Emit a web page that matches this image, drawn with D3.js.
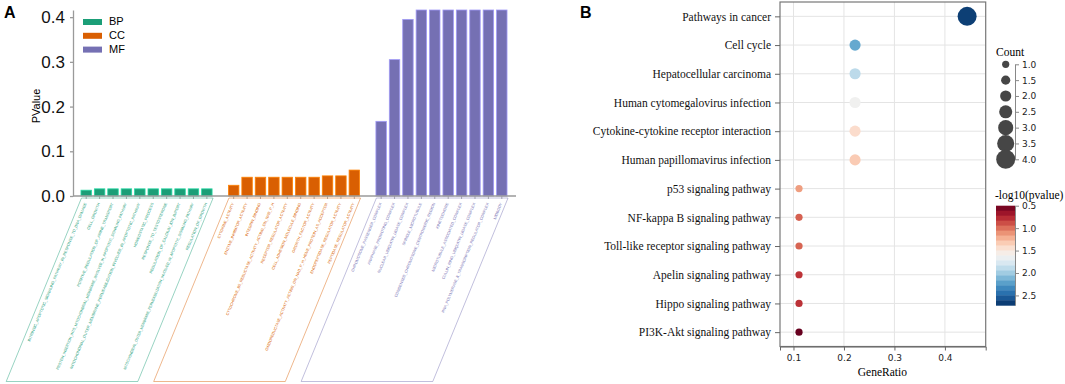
<!DOCTYPE html>
<meta charset="utf-8">
<script src="https://cdn.jsdelivr.net/npm/d3@7"></script>
<style>
  body { margin: 0; background: #fff; }
</style>
<div id="my_dataviz"></div>
<script>

// ---------- panel A : GO enrichment bars ----------
var groupNames = ["BP", "CC", "MF"];
var groupColors = ["#1b9e77", "#d95f02", "#7570b3"];

var bpTerms = [
  "INTRINSIC_APOPTOTIC_SIGNALING_PATHWAY_IN_RESPONSE_TO_DNA_DAMAGE",
  "CELL_GROWTH",
  "POSITIVE_REGULATION_OF_AMINE_TRANSPORT",
  "PROTEIN_INSERTION_INTO_MITOCHONDRIAL_MEMBRANE_INVOLVED_IN_APOPTOTIC_SIGNALING_PATHWAY",
  "MITOCHONDRIAL_OUTER_MEMBRANE_PERMEABILIZATION_INVOLVED_IN_APOPTOTIC_PATHWAY",
  "HOMEOSTATIC_PROCESS",
  "RESPONSE_TO_TESTOSTERONE",
  "REGULATION_OF_CALCIUM_ION_IMPORT",
  "MITOCHONDRIAL_OUTER_MEMBRANE_PERMEABILIZATION_INVOLVED_IN_APOPTOTIC_SIGNALING_PATHWAY",
  "REGULATION_OF_GROWTH"
];
var bpValues = [0.013, 0.016, 0.016, 0.016, 0.016, 0.016, 0.016, 0.016, 0.016, 0.016];

var ccTerms = [
  "CYTOKINE_ACTIVITY",
  "ENZYME_INHIBITOR_ACTIVITY",
  "INTEGRIN_BINDING",
  "CYTOCHROME_B5_REDUCTASE_ACTIVITY_ACTING_ON_NAD_P_H",
  "RECEPTOR_REGULATOR_ACTIVITY",
  "CELL_ADHESION_MOLECULE_BINDING",
  "GROWTH_FACTOR_ACTIVITY",
  "OXIDOREDUCTASE_ACTIVITY_ACTING_ON_NAD_P_H_HEME_PROTEIN_AS_ACCEPTOR",
  "ENDOPEPTIDASE_REGULATOR_ACTIVITY",
  "PEPTIDASE_REGULATOR_ACTIVITY"
];
var ccValues = [0.024, 0.042, 0.042, 0.042, 0.042, 0.042, 0.042, 0.045, 0.045, 0.058];

var mfTerms = [
  "CHROMOSOME_PASSENGER_COMPLEX",
  "ANAPHASE_PROMOTING_COMPLEX",
  "NUCLEAR_UBIQUITIN_LIGASE_COMPLEX",
  "SPINDLE_MICROTUBULE",
  "CONDENSED_CHROMOSOME_CENTROMERIC_REGION",
  "KINETOCHORE",
  "MICROTUBULE_ASSOCIATED_COMPLEX",
  "CULLIN_RING_UBIQUITIN_LIGASE_COMPLEX",
  "RNA_POLYMERASE_II_TRANSCRIPTION_REGULATOR_COMPLEX",
  "MIDBODY"
];
var mfValues = [0.167, 0.305, 0.395, 0.416, 0.416, 0.416, 0.416, 0.416, 0.416, 0.416];

var pTicks = [0, 0.1, 0.2, 0.3, 0.4];

// ---------- panel B : KEGG dot plot ----------
var pathways = [
  "Pathways in cancer",
  "Cell cycle",
  "Hepatocellular carcinoma",
  "Human cytomegalovirus infection",
  "Cytokine-cytokine receptor interaction",
  "Human papillomavirus infection",
  "p53 signaling pathway",
  "NF-kappa B signaling pathway",
  "Toll-like receptor signaling pathway",
  "Apelin signaling pathway",
  "Hippo signaling pathway",
  "PI3K-Akt signaling pathway"
];
var geneRatio = [0.444, 0.222, 0.222, 0.222, 0.222, 0.222, 0.111, 0.111, 0.111, 0.111, 0.111, 0.111];
var counts = [4, 2, 2, 2, 2, 2, 1, 1, 1, 1, 1, 1];
var logP = [2.66, 2.18, 1.9, 1.63, 1.42, 1.33, 1.15, 0.95, 0.96, 0.8, 0.79, 0.5];

var ratioTicks = [0.1, 0.2, 0.3, 0.4];
var countTicks = [1.0, 1.5, 2.0, 2.5, 3.0, 3.5, 4.0];
var colorTicks = [0.5, 1.0, 1.5, 2.0, 2.5];

// ---------------------------------------------------------------
var W = 1065, H = 384;
var svg = d3.select("#my_dataviz")
  .append("svg")
    .attr("width", W)
    .attr("height", H)
    .style("font-family", "'Liberation Sans', Arial, sans-serif");

// ---------- build panel A ----------
var groupTerms = [bpTerms, ccTerms, mfTerms];
var groupValues = [bpValues, ccValues, mfValues];

// one slot per bar plus one empty slot between groups
var bars = [], slots = [];
groupTerms.forEach(function(terms, g) {
  if (g > 0) slots.push("gap" + g);
  terms.forEach(function(t, j) {
    var key = g + "-" + j;
    slots.push(key);
    bars.push({key: key, term: t, value: groupValues[g][j], group: g});
  });
});

var x = d3.scaleBand()
    .domain(slots)
    .range([79.5, 508.5])
    .paddingInner(0.22)
    .paddingOuter(0.11);

var y = d3.scaleLinear()
    .domain([0, 0.416])
    .range([196, 10]);

var gA = svg.append("g");

// y axis
var yAxis = gA.append("g")
    .attr("transform", "translate(73,0)")
    .call(d3.axisLeft(y).tickValues(pTicks).tickFormat(d3.format(".1f")).tickSize(3).tickSizeOuter(0).tickPadding(5));
yAxis.selectAll("text").style("font-size", "17px").attr("fill", "#111");
yAxis.selectAll("line,path").attr("stroke", "#9a9a9a").attr("stroke-width", 1.3);

gA.append("text")
    .attr("transform", "translate(40,106) rotate(-90)")
    .attr("text-anchor", "middle")
    .style("font-size", "11px")
    .text("PValue");

// bars
gA.selectAll("rect.bar")
  .data(bars)
  .enter()
  .append("rect")
    .attr("class", "bar")
    .attr("x", function(d) { return x(d.key); })
    .attr("y", function(d) { return y(d.value); })
    .attr("width", x.bandwidth())
    .attr("height", function(d) { return y(0) - y(d.value); })
    .attr("fill", function(d) { return groupColors[d.group]; })
    .attr("stroke", function(d) { return d3.color(groupColors[d.group]).brighter(0.9); })
    .attr("stroke-width", 0.8);

// baseline
gA.append("line")
    .attr("x1", 73).attr("x2", 516)
    .attr("y1", y(0)).attr("y2", y(0))
    .attr("stroke", "#9a9a9a")
    .attr("stroke-width", 1.5);

// small ticks below bars
gA.selectAll("line.xt")
  .data(bars)
  .enter()
  .append("line")
    .attr("class", "xt")
    .attr("x1", function(d) { return x(d.key) + x.bandwidth() / 2; })
    .attr("x2", function(d) { return x(d.key) + x.bandwidth() / 2; })
    .attr("y1", y(0)).attr("y2", y(0) + 3)
    .attr("stroke", "#999")
    .attr("stroke-width", 0.8);

// slanted frames around each group of labels
var angle = 67.7;
var boxTop = 198, boxBottom = 381.5;
var shift = (boxBottom - boxTop) / Math.tan(angle * Math.PI / 180);
groupTerms.forEach(function(terms, g) {
  var x0 = x(g + "-0") + 0.5;
  var x1 = x(g + "-" + (terms.length - 1)) + x.bandwidth() + 1;
  var pts = [[x0, boxTop], [x1, boxTop], [x1 - shift, boxBottom], [x0 - shift, boxBottom]];
  gA.append("polygon")
      .attr("points", pts.map(function(p) { return p.join(","); }).join(" "))
      .attr("fill", "none")
      .attr("stroke", groupColors[g])
      .attr("stroke-opacity", 0.45)
      .attr("stroke-width", 1);
});

// rotated term labels
var terms = gA.selectAll("text.term")
  .data(bars)
  .enter()
  .append("text")
    .attr("class", "term")
    .attr("transform", function(d) {
      return "translate(" + (x(d.key) + x.bandwidth() / 2 + 0.5) + ",203.5) rotate(" + (-angle) + ")";
    })
    .attr("text-anchor", "end")
    .attr("fill", function(d) { return groupColors[d.group]; })
    .style("font-size", "10px")
    .text(function(d) { return d.term; });

// size the labels so the first one spans ~150px, longest ones stop above the frame bottom
var refLen = terms.filter(function(d) { return d.key === "0-0"; }).node().getComputedTextLength();
var termSize = 10 * 150 / refLen;
var maxLen = 180;
terms.style("font-size", termSize + "px")
  .each(function() {
    var len = this.getComputedTextLength();
    if (len > maxLen) {
      d3.select(this).attr("textLength", maxLen).attr("lengthAdjust", "spacingAndGlyphs");
    }
  });

// legend
var leg = gA.selectAll("g.leg")
  .data(groupNames)
  .enter()
  .append("g")
    .attr("class", "leg")
    .attr("transform", function(d, i) { return "translate(83," + (19 + i * 13.8) + ")"; });
leg.append("rect")
    .attr("width", 19).attr("height", 6)
    .attr("fill", function(d, i) { return groupColors[i]; });
leg.append("text")
    .attr("x", 26).attr("y", 6)
    .style("font-size", "11px")
    .text(function(d) { return d; });

// panel letter
svg.append("text")
    .attr("x", 4).attr("y", 18)
    .style("font-size", "16px").style("font-weight", "bold")
    .text("A");

// ---------- build panel B ----------
var gB = svg.append("g").style("font-family", "'Liberation Serif', 'Times New Roman', serif");
var plotLeft = 780, plotRight = 985.7, plotTop = 2, plotBottom = 346.5;

var xr = d3.scaleLinear()
    .domain([0.0733, 0.4808])
    .range([plotLeft, plotRight]);

var yp = d3.scalePoint()
    .domain(pathways)
    .range([plotTop, plotBottom])
    .padding(0.5);

var rSize = d3.scaleLinear()
    .domain([1, 4])
    .range([3.6, 9.5]);

var color = d3.scaleSequential(d3.interpolateRdBu)
    .domain([0.5, 2.72]);

// grid
gB.selectAll("line.hg")
  .data(pathways)
  .enter()
  .append("line")
    .attr("x1", plotLeft).attr("x2", plotRight)
    .attr("y1", function(d) { return yp(d); })
    .attr("y2", function(d) { return yp(d); })
    .attr("stroke", "#e4e4e4");
gB.selectAll("line.vg")
  .data(ratioTicks)
  .enter()
  .append("line")
    .attr("x1", function(d) { return xr(d); })
    .attr("x2", function(d) { return xr(d); })
    .attr("y1", plotTop).attr("y2", plotBottom)
    .attr("stroke", "#e4e4e4");

// frame
gB.append("rect")
    .attr("x", plotLeft).attr("y", plotTop)
    .attr("width", plotRight - plotLeft).attr("height", plotBottom - plotTop)
    .attr("fill", "none")
    .attr("stroke", "#777")
    .attr("stroke-width", 1.2);

// axes
var axL = gB.append("g")
    .attr("transform", "translate(" + plotLeft + ",0)")
    .call(d3.axisLeft(yp).tickSize(5).tickSizeOuter(0).tickPadding(4));
axL.select("path").remove();
axL.selectAll("line").attr("stroke", "#666");
axL.selectAll("text")
    .attr("fill", "#111")
    .style("font-family", "'Liberation Serif', 'Times New Roman', serif")
    .style("font-size", "11.5px");

var axB = gB.append("g")
    .attr("transform", "translate(0," + plotBottom + ")")
    .call(d3.axisBottom(xr).tickValues(ratioTicks).tickFormat(d3.format(".1f")).tickSize(4).tickSizeOuter(4).tickPadding(4));
axB.selectAll("line,path").attr("stroke", "#666");
axB.selectAll("text")
    .attr("fill", "#222")
    .style("font-family", "'DejaVu Sans', Verdana, sans-serif")
    .style("font-size", "9px");

gB.append("text")
    .attr("x", (plotLeft + plotRight) / 2 - 0.5).attr("y", 376)
    .attr("text-anchor", "middle")
    .style("font-size", "11.5px")
    .text("GeneRatio");

// dots
gB.selectAll("circle.dot")
  .data(pathways)
  .enter()
  .append("circle")
    .attr("class", "dot")
    .attr("cx", function(d, i) { return xr(geneRatio[i]); })
    .attr("cy", function(d) { return yp(d); })
    .attr("r", function(d, i) { return rSize(counts[i]); })
    .attr("fill", function(d, i) { return color(logP[i]); });

// size legend
gB.append("text")
    .attr("x", 996).attr("y", 56)
    .style("font-size", "11.5px")
    .text("Count");
var yCount = d3.scaleLinear().domain([1, 4]).range([64.3, 159.3]);
gB.selectAll("circle.sz")
  .data(countTicks)
  .enter()
  .append("circle")
    .attr("cx", 1005.7)
    .attr("cy", function(d) { return yCount(d); })
    .attr("r", function(d) { return rSize(d); })
    .attr("fill", "#464646");
var axC = gB.append("g")
    .attr("transform", "translate(1015,0)")
    .call(d3.axisRight(yCount).tickValues(countTicks).tickFormat(d3.format(".1f")).tickSize(4).tickSizeOuter(0).tickPadding(3));
axC.selectAll("line,path").attr("stroke", "#888");
axC.selectAll("text")
    .attr("fill", "#222")
    .style("font-family", "'DejaVu Sans', Verdana, sans-serif")
    .style("font-size", "9px");

// colour legend
gB.append("text")
    .attr("x", 995).attr("y", 199)
    .style("font-size", "11.5px")
    .text("-log10(pvalue)");
var yCol = d3.scaleLinear().domain([0.5, 2.72]).range([205.7, 305.3]);
var nBins = 20;
var binEdges = d3.range(nBins + 1).map(function(i) { return 0.5 + i * (2.72 - 0.5) / nBins; });
gB.selectAll("rect.cb")
  .data(binEdges.slice(0, nBins))
  .enter()
  .append("rect")
    .attr("x", 996)
    .attr("y", function(d) { return yCol(d); })
    .attr("width", 19)
    .attr("height", (yCol(2.72) - yCol(0.5)) / nBins + 0.4)
    .attr("fill", function(d) { return color(d + (2.72 - 0.5) / nBins / 2); });
var axK = gB.append("g")
    .attr("transform", "translate(1015,0)")
    .call(d3.axisRight(yCol).tickValues(colorTicks).tickFormat(d3.format(".1f")).tickSize(4).tickSizeOuter(0).tickPadding(3));
axK.selectAll("line,path").attr("stroke", "#888");
axK.selectAll("text")
    .attr("fill", "#222")
    .style("font-family", "'DejaVu Sans', Verdana, sans-serif")
    .style("font-size", "9px");

svg.append("text")
    .attr("x", 580).attr("y", 18)
    .style("font-size", "16px").style("font-weight", "bold")
    .text("B");

</script>
